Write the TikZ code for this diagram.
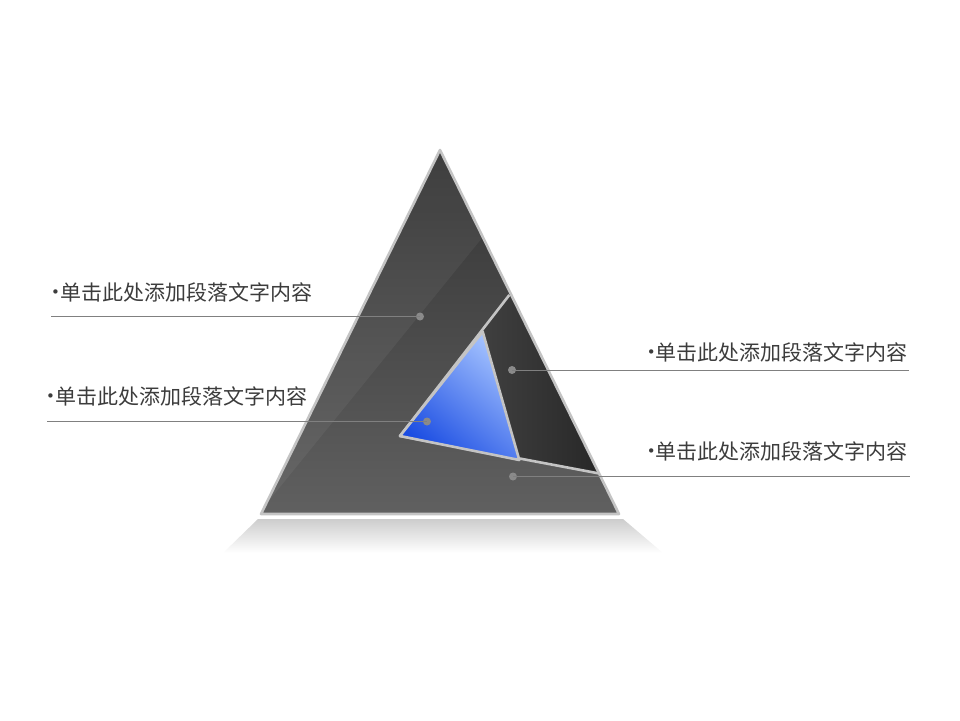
\documentclass[tikz,border=0pt]{standalone}
\usepackage{fontspec}
\newfontfamily\cjk{Noto Sans CJK SC}
\newfontfamily\bulletfont{DejaVu Sans}
\newcommand{\lbltext}{\raisebox{3pt}{\bulletfont\fontsize{15}{24}\selectfont •}单击此处添加段落文字内容}
\begin{document}
\begin{tikzpicture}[x=1pt,y=-1pt,
  edge/.style={draw={rgb,255:red,196;green,196;blue,196},line width=2.6pt,line join=round},
  lead/.style={draw={rgb,255:red,128;green,128;blue,128},line width=0.9pt},
  dot/.style={circle,fill={rgb,255:red,138;green,138;blue,138},inner sep=0pt,minimum size=8pt},
  lbl/.style={inner sep=0pt,text={rgb,255:red,60;green,60;blue,60},font=\cjk\fontsize{21}{24}\selectfont}]
\useasboundingbox (0,0) rectangle (960,720);
% base reflection
\shade[top color={rgb,255:red,205;green,205;blue,205},bottom color=white]
  (258,519) -- (623,519) -- (663,553) -- (223,553) -- cycle;
% outer triangle
\coordinate (A) at (440,150);
\coordinate (B) at (261,514);
\coordinate (C) at (619,514);
\shade[top color={rgb,255:red,52;green,52;blue,52},middle color={rgb,255:red,60;green,60;blue,60},bottom color={rgb,255:red,96;green,96;blue,96}]
  (A) -- (B) -- (C) -- cycle;
\fill[white,opacity=0.05] (A) -- (482.8,237) -- (263,508) -- (B) -- cycle;
% middle triangle
\coordinate (P) at (509.3,295);
\coordinate (Q) at (400,436);
\coordinate (R) at (598.3,473.3);
\shade[left color={rgb,255:red,80;green,80;blue,80},right color={rgb,255:red,40;green,40;blue,40}]
  (P) -- (Q) -- (R) -- cycle;
\draw[edge] (P) -- (Q) -- (R);
% blue triangle
\coordinate (U) at (482.7,331.7);
\coordinate (V) at (400,436);
\coordinate (W) at (519.3,460);
\shade[top color={rgb,255:red,165;green,195;blue,255},bottom color={rgb,255:red,26;green,76;blue,226},shading angle=-40]
  (U) -- (V) -- (W) -- cycle;
\draw[edge] (U) -- (V) -- (W) -- cycle;
\draw[edge] (A) -- (B) -- (C) -- cycle;
% dots
\node[dot] (d1) at (420,316.5) {};
\node[dot] (d2) at (427,421.5) {};
\node[dot] (d3) at (512,370) {};
\node[dot] (d4) at (513,476.5) {};
% line ends
\coordinate (e1) at (51,316.5);
\coordinate (e2) at (47,421.5);
\coordinate (e3) at (909,370);
\coordinate (e4) at (910,476.5);
\draw[lead] (e1) -- (d1.center);
\draw[lead] (e2) -- (d2.center);
\draw[lead] (d3.center) -- (e3);
\draw[lead] (d4.center) -- (e4);
% labels
\node[lbl,anchor=west] (t1) at (51,292) {\lbltext};
\node[lbl,anchor=west] (t2) at (46,396) {\lbltext};
\node[lbl,anchor=east] (t3) at (908,352) {\lbltext};
\node[lbl,anchor=east] (t4) at (908,451) {\lbltext};
\end{tikzpicture}
\end{document}
